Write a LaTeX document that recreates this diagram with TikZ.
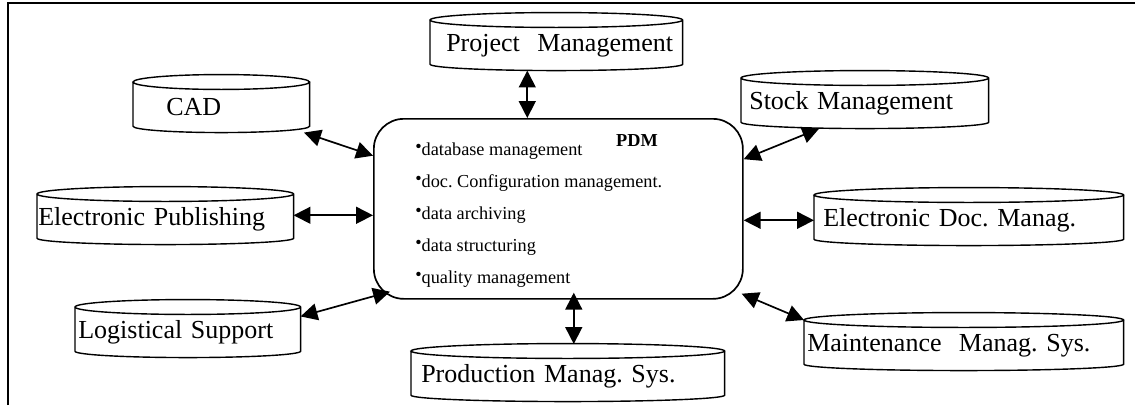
\documentclass[tikz,border=0pt]{standalone}
\usepackage{fontspec}
\setmainfont{Liberation Serif}
\usepackage{graphicx}
\usepackage{tikz}
\usetikzlibrary{%
arrows.meta,%
calc}
\frenchspacing

\begin{document}
\begin{tikzpicture}[
  dbase/.style={anchor=north west, text width=#1, align=left, inner sep=0pt,
    minimum height=1.25cm, font=\fontsize{18.5}{22}\selectfont},
  cyl/.style={line width=1pt},
  link/.style={{Triangle[length=12pt,width=12pt]}-{Triangle[length=12pt,width=12pt]},
    line width=1.2pt},
  item/.style={anchor=base west, inner sep=0pt, font=\fontsize{13}{15}\selectfont}
  ]
\useasboundingbox (0,0) rectangle (28.375,-10.125);
\draw[line width=1pt] (0.2,-10.125) -- (0.2,-0.075) -- (28.375,-0.075);

% the PDM box
\node[draw, line width=1.2pt, rounded corners=0.75cm, anchor=north west,
  minimum width=9.225cm, minimum height=4.5cm, inner sep=0pt] (pdm) at (9.325,-2.95) {};
\node[anchor=base, inner sep=0pt, font=\fontsize{13}{15}\selectfont\bfseries] (pdmtitle) at (15.925,-3.65) {PDM};
\foreach \t [count=\i] in {database management, doc. Configuration management.,
    data archiving, data structuring, quality management}
  \node[item] (item\i) at (10.375,{-3.875-0.8*(\i-1)}) {\raisebox{1.5pt}{\textbullet}\t};

% the systems round it
\node[dbase=6.3cm] (proj) at (10.75,-0.5) {\hspace*{0.4cm}Project\ \ Management};
\node[dbase=4.4cm] (cad) at (3.325,-2.05) {\hspace*{0.825cm}CAD};
\node[dbase=6.175cm] (stock) at (18.525,-1.95) {\hspace*{0.2cm}Stock Management};
\node[dbase=6.4cm] (epub) at (0.925,-4.85) {\hspace*{0.025cm}Electronic Publishing};
\node[dbase=7.725cm] (edm) at (20.35,-4.875) {\hspace*{0.225cm}Electronic Doc. Manag.};
\node[dbase=5.625cm] (logi) at (1.875,-7.675) {\hspace*{0.075cm}Logistical Support};
\node[dbase=7.825cm] (prod) at (10.275,-8.775) {\hspace*{0.25cm}Production Manag. Sys.};
\node[dbase=7.975cm] (maint) at (20.1,-8.0) {\hspace*{0.075cm}Maintenance\ \ Manag. Sys.};

\foreach \c in {proj,cad,stock,epub,edm,logi,prod,maint}
  \draw[cyl] let \p1=(\c.north west), \p2=(\c.south east), \n1={(\x2-\x1)/2} in
    (\p1) -- (\x1,\y2+4.5pt) arc[start angle=180, end angle=360, x radius=\n1, y radius=4.5pt]
    -- (\x2,\y1)
    (\x1+\n1,\y1) ellipse[x radius=\n1, y radius=5.3pt];

% links
\draw[link] ([xshift=-0.725cm]proj.south) -- ([xshift=-0.725cm]proj.south |- pdm.north);
\draw[link] (cad.-17) -- (pdm.164.5);
\draw[link] ([yshift=0.1cm]epub.east) -- ([yshift=0.1cm]epub.east -| pdm.west);
\draw[link] (logi.8) -- ([shift={(0.425,0.2)}]pdm.south west);
\draw[link] (stock.209) -- (pdm.15);
\draw[link] (edm.west) -- (edm.west -| pdm.east);
\draw[link] ([shift={(0.15,0.175)}]prod.north) -- ([shift={(0.15,0.175)}]prod.north |- pdm.south);
\draw[link] (maint.north west) -- ([shift={(-0.05,0.15)}]pdm.south east);
\end{tikzpicture}
\end{document}
